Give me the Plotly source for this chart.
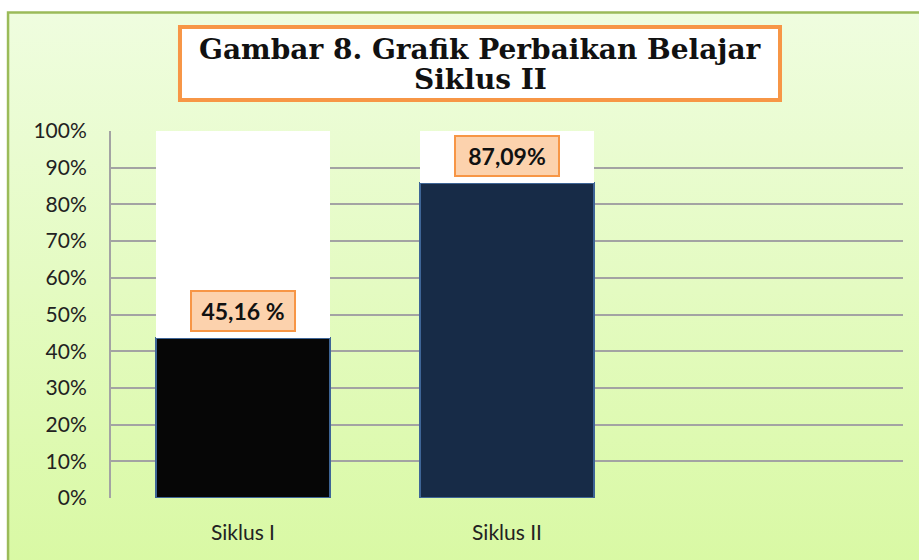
import plotly.graph_objects as go
import urllib.parse

categories = ["Siklus I", "Siklus II"]
values = [43.6, 85.8]
label_texts = ["45,16 %", "87,09%"]
title_lines = ["Gambar 8. Grafik Perbaikan Belajar", "Siklus II"]
axis_max = 100
bar_colors = ["#060606", "#172b47"]

remainder = [axis_max - v for v in values]

fig = go.Figure()
fig.add_trace(go.Bar(
    x=categories, y=values,
    marker=dict(color=bar_colors, line=dict(color="#3e6596", width=1.5)),
    hoverinfo="skip", showlegend=False,
))
fig.add_trace(go.Bar(
    x=categories, y=remainder,
    marker=dict(color="white", line=dict(width=0)),
    hoverinfo="skip", showlegend=False,
))

for c, v, t in zip(categories, values, label_texts):
    fig.add_annotation(
        x=c, y=v, xref="x", yref="y", text="<b>" + t + "</b>",
        showarrow=False, yanchor="bottom", yshift=6,
        font=dict(family="Lato", size=23, color="#111111"),
        bgcolor="#fcd2ad", bordercolor="#f79646", borderwidth=2,
        width=96, height=32, borderpad=3,
    )

# Title box
fig.add_shape(type="rect", xref="paper", yref="paper",
              x0=0.0871, x1=0.8447, y0=1.0845, y1=1.2834,
              line=dict(color="#f79646", width=4), fillcolor="white", layer="above")
for ty, line in zip([1.2234, 1.139], title_lines):
    fig.add_annotation(
        xref="paper", yref="paper", x=0.467, y=ty,
        xanchor="center", yanchor="middle",
        text="<b>" + line + "</b>", showarrow=False,
        font=dict(family="DejaVu Serif", size=28, color="#111111"),
    )

# Background gradient via SVG data URI
svg = ('<svg xmlns="http://www.w3.org/2000/svg" width="100" height="100" preserveAspectRatio="none">'
       '<defs><linearGradient id="g" x1="0" y1="0" x2="0" y2="1">'
       '<stop offset="0" stop-color="#effddf"/><stop offset="1" stop-color="#d9f9a4"/>'
       '</linearGradient></defs><rect width="100" height="100" fill="url(#g)"/></svg>')
uri = "data:image/svg+xml;charset=utf-8," + urllib.parse.quote(svg)
fig.add_layout_image(
    source=uri, xref="paper", yref="paper",
    x=-0.130, y=1.323, sizex=1.25, sizey=1.5,
    sizing="stretch", xanchor="left", yanchor="top", layer="below",
)
fig.add_shape(type="rect", xref="paper", yref="paper",
              x0=-0.130, y0=-0.4, x1=1.2, y1=1.323,
              line=dict(color="#9bbb59", width=2.5), fillcolor="rgba(0,0,0,0)", layer="below")

fig.update_layout(
    width=919, height=560,
    margin=dict(l=111, r=16, t=131, b=62),
    barmode="stack", bargap=0.34,
    paper_bgcolor="white", plot_bgcolor="rgba(0,0,0,0)",
    xaxis=dict(type="category", categoryarray=categories, range=[-0.5, 2.5],
               showgrid=False, ticks="", ticklabelstandoff=20,
               tickfont=dict(family="Lato", size=21, color="#222222"),
               showline=False, zeroline=False, fixedrange=True),
    yaxis=dict(range=[0, axis_max], dtick=10, ticksuffix="%",
               showgrid=True, gridcolor="#a3a3a3", gridwidth=2,
               showline=True, linecolor="#a3a3a3", linewidth=2,
               zeroline=False, ticks="", ticklabelstandoff=18,
               tickfont=dict(family="Lato", size=21, color="#222222"),
               fixedrange=True),
)

fig.write_html("out.html")
